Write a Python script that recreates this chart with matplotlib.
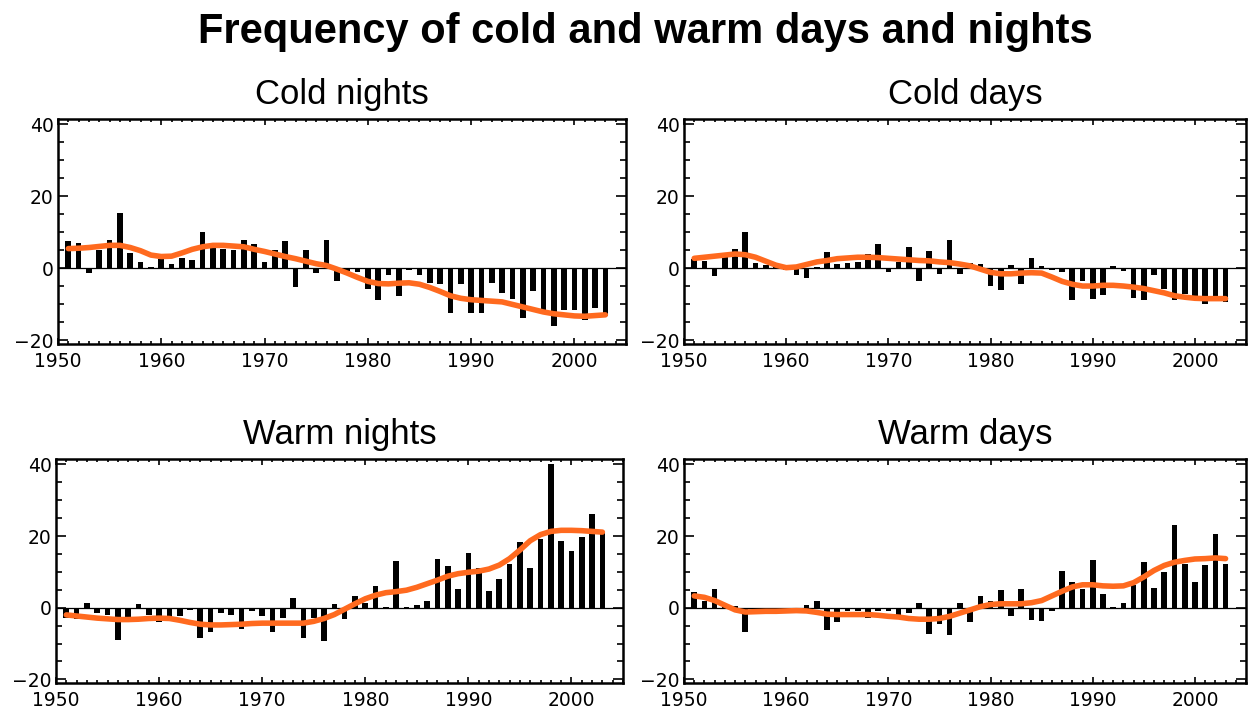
import numpy as np
import matplotlib.pyplot as plt
from matplotlib.ticker import MultipleLocator

plt.rcParams['font.family'] = ['Liberation Sans', 'DejaVu Sans']

years = np.arange(1951, 2004)

cold_nights = [7.5, 7, -1.3, 5, 8, 15.3, 4.3, 1.8, 0.3, 2.7,
               1.3, 3, 2.2, 10, 7, 5.3, 5, 8, 6.7, 1.8,
               5, 7.7, -5.3, 5, -1.3, 8, -3.5, -0.8, -1, -5.8,
               -8.9, -1.8, -7.6, -0.5, -1.8, -4, -4.4, -12.4, -4.4, -12.4,
               -12.4, -4, -6.7, -8.4, -13.8, -6.2, -11.6, -16, -11.6, -11.6,
               -14.2, -11.1, -13.3]
cold_nights_trend = [5.5, 5.6, 5.8, 6.1, 6.4, 6.4, 5.8, 4.9, 3.7, 3.3,
                     3.4, 4.3, 5.3, 6.0, 6.4, 6.4, 6.2, 6.0, 5.3, 4.7,
                     4.0, 3.3, 2.7, 2.0, 1.3, 0.8, -0.2, -1.3, -2.5, -3.6,
                     -4.2, -4.3, -4.1, -4.0, -4.4, -5.3, -6.4, -7.6, -8.3, -8.7,
                     -8.9, -9.1, -9.3, -10.0, -10.7, -11.4, -12.1, -12.6, -12.9, -13.2,
                     -13.3, -13.1, -12.9]

cold_days = [2.7, 2, -2.2, 4.4, 5.3, 10.2, 1.6, 0.9, 0.3, -0.5,
             -1.8, -2.7, 0.5, 4.6, 1.3, 1.6, 1.8, 4, 6.7, -0.9,
             1.8, 6, -3.6, 4.7, -1.5, 8, -1.5, 1.6, 1.3, -4.9,
             -6, 0.9, -4.3, 2.8, 0.6, -0.5, -1, -8.7, -3.6, -8.4,
             -7.3, 0.7, -0.7, -8.2, -8.9, -1.8, -5.8, -8.7, -7.1, -7.6,
             -9.8, -8, -9.3]
cold_days_trend = [2.8, 3.1, 3.4, 3.7, 4.0, 3.8, 3.1, 2.0, 0.9, 0.2,
                   0.4, 1.1, 1.8, 2.2, 2.7, 2.9, 3.1, 3.1, 3.0, 2.8,
                   2.6, 2.4, 2.2, 2.1, 1.8, 1.6, 1.2, 0.7, -0.2, -1.1,
                   -1.5, -1.5, -1.3, -1.2, -1.3, -2.4, -3.6, -4.4, -4.9, -4.9,
                   -4.7, -4.7, -4.9, -5.2, -5.6, -6.2, -6.8, -7.6, -8.0, -8.3,
                   -8.4, -8.4, -8.4]

warm_nights = [-3, -3.2, 1.4, -1.5, -2, -9, -2.8, 1, -2, -4.1,
               -2.8, -2.4, -0.5, -8.5, -6.8, -1.5, -2, -5.9, -1, -2.4,
               -6.8, -2.8, 2.6, -8.5, -2.8, -9.4, 1.1, -3.2, 3.3, 1.2,
               6.1, 0.2, 13, 0.2, 0.7, 1.8, 13.7, 11.7, 5.3, 15.4,
               11.2, 4.6, 7.9, 12.1, 18.4, 11.2, 19.1, 40, 18.7, 15.8,
               19.6, 26.1, 21]
warm_nights_trend = [-2.0, -2.3, -2.6, -2.9, -3.1, -3.3, -3.3, -3.2, -3.0, -2.9,
                     -3.0, -3.5, -4.1, -4.6, -4.8, -4.8, -4.7, -4.6, -4.4, -4.3,
                     -4.3, -4.3, -4.3, -4.3, -3.8, -3.0, -1.9, -0.4, 1.1, 2.5,
                     3.5, 4.2, 4.5, 4.9, 5.7, 6.7, 7.7, 8.8, 9.5, 9.9,
                     10.2, 10.8, 11.9, 13.7, 16.1, 18.7, 20.4, 21.3, 21.6, 21.6,
                     21.5, 21.3, 21.1]

warm_days = [4.4, 2, 5.3, 1.1, 0.5, -6.8, -1, -0.5, -0.5, -1.5,
             -0.3, 0.7, 1.8, -6.1, -4.1, -1, -1, -3, -1, -1,
             -3.2, -1.5, 1.4, -7.2, -4.5, -7.6, 1.4, -4.1, 3.2, 1.8,
             4.9, -2.4, 5.3, -3.5, -3.7, -0.9, 10.2, 7.3, 5.1, 13.4,
             3.8, 0.2, 1.4, 6.4, 12.7, 5.5, 9.9, 23.2, 12.1, 7.3,
             11.9, 20.6, 12.1]
warm_days_trend = [3.3, 2.9, 2.0, 0.7, -0.6, -1.2, -1.1, -1.0, -1.0, -0.9,
                   -0.8, -0.9, -1.3, -1.8, -1.9, -1.9, -1.9, -1.9, -2.1, -2.4,
                   -2.6, -3.0, -3.2, -3.2, -3.0, -2.4, -1.5, -0.6, 0.3, 0.9,
                   1.1, 1.1, 1.1, 1.4, 2.0, 3.3, 4.6, 5.8, 6.4, 6.4,
                   6.1, 6.0, 6.1, 7.0, 8.6, 10.4, 11.8, 12.7, 13.2, 13.6,
                   13.7, 13.9, 13.7]

titles = ["Cold nights", "Cold days", "Warm nights", "Warm days"]
bars = [cold_nights, cold_days, warm_nights, warm_days]
trends = [cold_nights_trend, cold_days_trend, warm_nights_trend, warm_days_trend]

W, H = 1256, 717
fig = plt.figure(figsize=(W / 100, H / 100), dpi=100)

# axes boxes in pixels: left, top, right, bottom
boxes = [(58, 119, 626, 344),
         (684, 119, 1246, 344),
         (56, 459, 623, 683),
         (684, 459, 1246, 683)]

fig.text(0.514, 0.955, "Frequency of cold and warm days and nights",
         ha='center', va='center', fontsize=30, fontweight='bold')

for box, title, b, t in zip(boxes, titles, bars, trends):
    l, top, r, bot = box
    ax = fig.add_axes([l / W, 1 - bot / H, (r - l) / W, (bot - top) / H])
    ax.bar(years, b, width=0.55, color='black')
    ax.axhline(0, color='black', lw=0.9)
    ax.plot(years, t, color='#ff6a1f', lw=4, solid_capstyle='round')
    ax.set_xlim(1950, 2005)
    ax.set_ylim(-21, 41.5)
    ax.set_title(title, fontsize=25, pad=11)
    ax.xaxis.set_major_locator(MultipleLocator(10))
    ax.xaxis.set_minor_locator(MultipleLocator(1))
    ax.yaxis.set_major_locator(MultipleLocator(20))
    ax.yaxis.set_minor_locator(MultipleLocator(5))
    ax.tick_params(which='both', direction='in', top=True, right=True, width=1.2)
    ax.tick_params(which='major', axis='y', length=7)
    ax.tick_params(which='major', axis='x', length=4)
    ax.tick_params(which='minor', axis='y', length=4)
    ax.tick_params(which='minor', axis='x', length=2)
    ax.tick_params(axis='x', pad=6)
    ax.tick_params(axis='y', pad=3)
    for lab in ax.get_xticklabels() + ax.get_yticklabels():
        lab.set_fontfamily('DejaVu Sans')
        lab.set_fontsize(13.5)
    for s in ax.spines.values():
        s.set_linewidth(1.8)

fig.savefig('out.png', dpi=100)
